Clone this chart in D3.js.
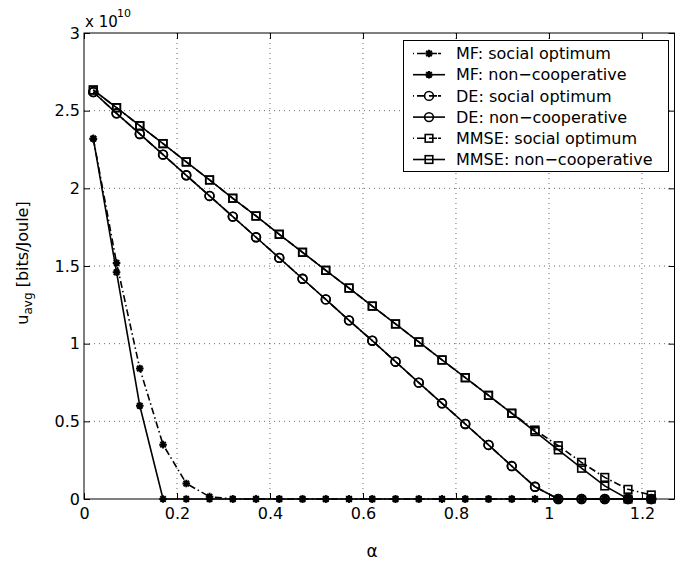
<!DOCTYPE html>
<html>
<head>
<meta charset="utf-8">
<script src="https://cdn.jsdelivr.net/npm/d3@7"></script>
<style>
body { margin: 0; background: #fff; }
text { font-family: "DejaVu Sans", sans-serif; fill: #000; }
</style>
</head>
<body>
<script>
// values are in units of 10^10 bits/Joule
var alpha = [0.02, 0.07, 0.12, 0.17, 0.22, 0.27, 0.32, 0.37, 0.42, 0.47, 0.52, 0.57, 0.62,
             0.67, 0.72, 0.77, 0.82, 0.87, 0.92, 0.97, 1.02, 1.07, 1.12, 1.17, 1.22];

var mfSocial    = [2.32, 1.52, 0.84, 0.35, 0.10, 0.015, 0, 0, 0, 0, 0, 0, 0,
                   0, 0, 0, 0, 0, 0, 0, 0, 0, 0, 0, 0];
var mfNonCoop   = [2.32, 1.46, 0.60, 0, 0, 0, 0, 0, 0, 0, 0, 0, 0,
                   0, 0, 0, 0, 0, 0, 0, 0, 0, 0, 0, 0];
var deSocial    = [2.62, 2.483, 2.35, 2.217, 2.084, 1.951, 1.818, 1.685, 1.552, 1.418, 1.285, 1.150, 1.019,
                   0.884, 0.749, 0.616, 0.483, 0.348, 0.212, 0.079, 0, 0, 0, 0, 0];
var deNonCoop   = [2.62, 2.483, 2.35, 2.217, 2.084, 1.951, 1.818, 1.685, 1.552, 1.418, 1.285, 1.150, 1.019,
                   0.884, 0.749, 0.616, 0.483, 0.348, 0.212, 0.079, 0, 0, 0, 0, 0];
var mmseSocial  = [2.633, 2.519, 2.403, 2.288, 2.170, 2.054, 1.936, 1.822, 1.704, 1.588, 1.472, 1.358, 1.242,
                   1.127, 1.011, 0.895, 0.781, 0.667, 0.552, 0.444, 0.343, 0.236, 0.139, 0.062, 0.026];
var mmseNonCoop = [2.633, 2.519, 2.403, 2.288, 2.170, 2.054, 1.936, 1.822, 1.704, 1.588, 1.472, 1.358, 1.242,
                   1.127, 1.011, 0.895, 0.781, 0.667, 0.552, 0.434, 0.316, 0.198, 0.084, 0, 0];

var seriesNames = ["MF: social optimum", "MF: non\u2212cooperative",
                   "DE: social optimum", "DE: non\u2212cooperative",
                   "MMSE: social optimum", "MMSE: non\u2212cooperative"];

var xTicks = [0, 0.2, 0.4, 0.6, 0.8, 1, 1.2];
var yTicks = [0, 0.5, 1, 1.5, 2, 2.5, 3];

var width = 697;
var height = 564;
var marginLeft = 84;
var marginTop = 33;
var plotRight = 674.5;
var plotBottom = 499;

var svg = d3.select("body").append("svg")
    .attr("width", width)
    .attr("height", height);

var xScale = d3.scaleLinear().domain([0, 1.27]).range([marginLeft, plotRight]);
var yScale = d3.scaleLinear().domain([0, 3]).range([plotBottom, marginTop]);

// grid
svg.append("g")
    .selectAll("line.gx")
    .data(xTicks.filter(d => d > 0))
    .enter().append("line")
    .attr("x1", d => xScale(d)).attr("x2", d => xScale(d))
    .attr("y1", marginTop).attr("y2", plotBottom)
    .attr("stroke", "#444").attr("stroke-width", 0.8)
    .attr("stroke-dasharray", "1,4");

svg.append("g")
    .selectAll("line.gy")
    .data(yTicks.filter(d => d > 0 && d < 3))
    .enter().append("line")
    .attr("x1", marginLeft).attr("x2", plotRight)
    .attr("y1", d => yScale(d)).attr("y2", d => yScale(d))
    .attr("stroke", "#444").attr("stroke-width", 0.8)
    .attr("stroke-dasharray", "1,4");

// axes (ticks inside on all sides)
function styleAxis(g) {
    g.select(".domain").remove();
    g.selectAll("line").attr("stroke", "#000");
    g.selectAll("text").attr("font-size", 16).attr("font-family", "DejaVu Sans, sans-serif");
}

svg.append("g")
    .attr("transform", "translate(0," + plotBottom + ")")
    .call(d3.axisBottom(xScale).tickValues(xTicks).tickFormat(d => d).tickSize(-6).tickPadding(9))
    .call(styleAxis);

svg.append("g")
    .attr("transform", "translate(" + marginLeft + ",0)")
    .call(d3.axisLeft(yScale).tickValues(yTicks).tickFormat(d => d).tickSize(-6).tickPadding(4))
    .call(styleAxis);

svg.append("g")
    .attr("transform", "translate(0," + marginTop + ")")
    .call(d3.axisTop(xScale).tickValues(xTicks).tickFormat("").tickSize(-6))
    .call(styleAxis);

svg.append("g")
    .attr("transform", "translate(" + plotRight + ",0)")
    .call(d3.axisRight(yScale).tickValues(yTicks).tickFormat("").tickSize(-6))
    .call(styleAxis);

svg.append("rect")
    .attr("x", marginLeft).attr("y", marginTop)
    .attr("width", plotRight - marginLeft).attr("height", plotBottom - marginTop)
    .attr("fill", "none").attr("stroke", "#000").attr("stroke-width", 1);

// markers
function starPath(cx, cy, r) {
    var k = r * 0.72;
    return "M" + (cx - r) + "," + cy + "L" + (cx + r) + "," + cy +
           "M" + cx + "," + (cy - r) + "L" + cx + "," + (cy + r) +
           "M" + (cx - k) + "," + (cy - k) + "L" + (cx + k) + "," + (cy + k) +
           "M" + (cx - k) + "," + (cy + k) + "L" + (cx + k) + "," + (cy - k);
}

function drawMarker(g, type, cx, cy) {
    if (type === "star") {
        g.append("path").attr("d", starPath(cx, cy, 3.8))
            .attr("stroke", "#000").attr("stroke-width", 2).attr("fill", "none");
    } else if (type === "circle") {
        g.append("circle").attr("cx", cx).attr("cy", cy).attr("r", 4.4)
            .attr("fill", "none").attr("stroke", "#000").attr("stroke-width", 1.6);
    } else {
        g.append("rect").attr("x", cx - 3.8).attr("y", cy - 3.8)
            .attr("width", 7.6).attr("height", 7.6)
            .attr("fill", "none").attr("stroke", "#000").attr("stroke-width", 1.6);
    }
}

var dashDot = "7,3,1.5,3";
var series = [
    { name: seriesNames[0], values: mfSocial,    dash: dashDot, marker: "star" },
    { name: seriesNames[1], values: mfNonCoop,   dash: null,    marker: "star" },
    { name: seriesNames[2], values: deSocial,    dash: dashDot, marker: "circle" },
    { name: seriesNames[3], values: deNonCoop,   dash: null,    marker: "circle" },
    { name: seriesNames[4], values: mmseSocial,  dash: dashDot, marker: "square" },
    { name: seriesNames[5], values: mmseNonCoop, dash: null,    marker: "square" }
];

var line = d3.line()
    .x((d, i) => xScale(alpha[i]))
    .y(d => yScale(d));

series.forEach(function (s) {
    var g = svg.append("g");
    g.append("path")
        .datum(s.values)
        .attr("fill", "none")
        .attr("stroke", "#000")
        .attr("stroke-width", 1.6)
        .attr("stroke-dasharray", s.dash)
        .attr("d", line);
    s.values.forEach(function (v, i) {
        drawMarker(g, s.marker, xScale(alpha[i]), yScale(v));
    });
});

// labels
svg.append("text")
    .attr("x", 85).attr("y", 27)
    .attr("font-size", 15)
    .text("x 10");
svg.append("text")
    .attr("x", 117).attr("y", 17)
    .attr("font-size", 11)
    .text("10");

svg.append("text")
    .attr("x", 372).attr("y", 557)
    .attr("text-anchor", "middle")
    .attr("font-size", 17)
    .text("\u03b1");

var yLabel = svg.append("text")
    .attr("transform", "translate(28,263) rotate(-90)")
    .attr("text-anchor", "middle")
    .attr("font-size", 16);
yLabel.append("tspan").text("u");
yLabel.append("tspan").attr("font-size", 12).attr("dy", 4).text("avg");
yLabel.append("tspan").attr("dy", -4).text(" [bits/Joule]");

// legend
var legend = svg.append("g");
legend.append("rect")
    .attr("x", 403.5).attr("y", 40.5)
    .attr("width", 265).attr("height", 131)
    .attr("fill", "#fff").attr("stroke", "#000").attr("stroke-width", 1);

series.forEach(function (s, i) {
    var y = 53.5 + i * 21.2;
    var row = legend.append("g");
    row.append("line")
        .attr("x1", 413).attr("x2", 445)
        .attr("y1", y).attr("y2", y)
        .attr("stroke", "#000").attr("stroke-width", 1.6)
        .attr("stroke-dasharray", s.dash ? "1,3,8,4,8" : null);
    drawMarker(row, s.marker, 429, y);
    row.append("text")
        .attr("x", 456).attr("y", y)
        .attr("dy", "0.36em")
        .attr("font-size", 16)
        .text(s.name);
});
</script>
</body>
</html>
